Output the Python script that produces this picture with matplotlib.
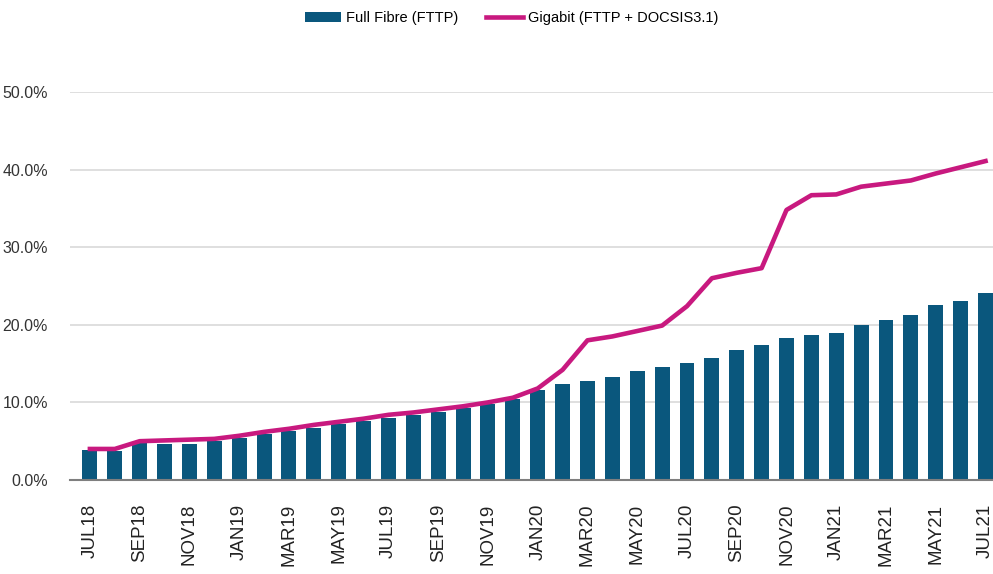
import numpy as np
import matplotlib
matplotlib.use("Agg")
import matplotlib.pyplot as plt
from matplotlib.ticker import FuncFormatter

plt.rcParams['font.family'] = ['Liberation Sans', 'DejaVu Sans']

# monthly share of premises, JUL18 .. JUL21
tick_labels = ['JUL18', 'SEP18', 'NOV18', 'JAN19', 'MAR19', 'MAY19', 'JUL19',
               'SEP19', 'NOV19', 'JAN20', 'MAR20', 'MAY20', 'JUL20', 'SEP20',
               'NOV20', 'JAN21', 'MAR21', 'MAY21', 'JUL21']

full_fibre = [3.9, 3.8, 4.8, 4.7, 4.7, 5.0, 5.4, 5.9, 6.3, 6.7, 7.2, 7.6,
              8.0, 8.4, 8.8, 9.3, 9.8, 10.4, 11.6, 12.4, 12.7, 13.3, 14.0,
              14.5, 15.1, 15.7, 16.8, 17.4, 18.3, 18.7, 19.0, 20.0, 20.6,
              21.3, 22.5, 23.1, 24.1]

gigabit = [4.0, 4.0, 5.0, 5.1, 5.2, 5.3, 5.7, 6.2, 6.6, 7.1, 7.5, 7.9,
           8.4, 8.7, 9.1, 9.5, 10.0, 10.6, 11.8, 14.2, 18.0, 18.5, 19.2,
           19.9, 22.4, 26.0, 26.7, 27.3, 34.8, 36.7, 36.8, 37.8, 38.2,
           38.6, 39.5, 40.3, 41.1]

BAR_COLOR = '#0a577d'
LINE_COLOR = '#c8197f'

x = np.arange(len(full_fibre))

fig = plt.figure(figsize=(9.93, 5.74), dpi=100)
ax = fig.add_axes([70 / 993, 94 / 574, 923 / 993, 388 / 574])

bars = ax.bar(x, full_fibre, width=0.6, color=BAR_COLOR, label='Full Fibre (FTTP)', zorder=2)
line, = ax.plot(x, gigabit, color=LINE_COLOR, linewidth=3.3, solid_joinstyle='round',
                label='Gigabit (FTTP + DOCSIS3.1)', zorder=3)

ax.set_xlim(-0.8, 36.3)
ax.set_ylim(0, 50)
ax.set_yticks(np.arange(0, 51, 10))
ax.yaxis.set_major_formatter(FuncFormatter(lambda v, p: f'{v:.1f}%'))
ax.set_xticks(x[::2])
ax.set_xticklabels(tick_labels, rotation=90, fontsize=13.5, color='#222222')
ax.tick_params(axis='y', labelsize=11.5, labelcolor='#333333', length=0, pad=16)
ax.tick_params(axis='x', length=0, pad=17)

ax.grid(axis='y', color='#d9d9d9', linewidth=1.2, zorder=0)
for side in ['top', 'right', 'left']:
    ax.spines[side].set_visible(False)
ax.spines['bottom'].set_color('#7f7f7f')
ax.spines['bottom'].set_linewidth(1.5)
ax.spines['bottom'].set_zorder(4)

fig.legend(handles=[bars, line], loc='center', bbox_to_anchor=(0.515, 0.968), ncol=2,
           frameon=False, fontsize=10.5, handlelength=2.5, handleheight=0.7,
           handletextpad=0.35, columnspacing=1.9)

fig.savefig('out.png', dpi=100)
